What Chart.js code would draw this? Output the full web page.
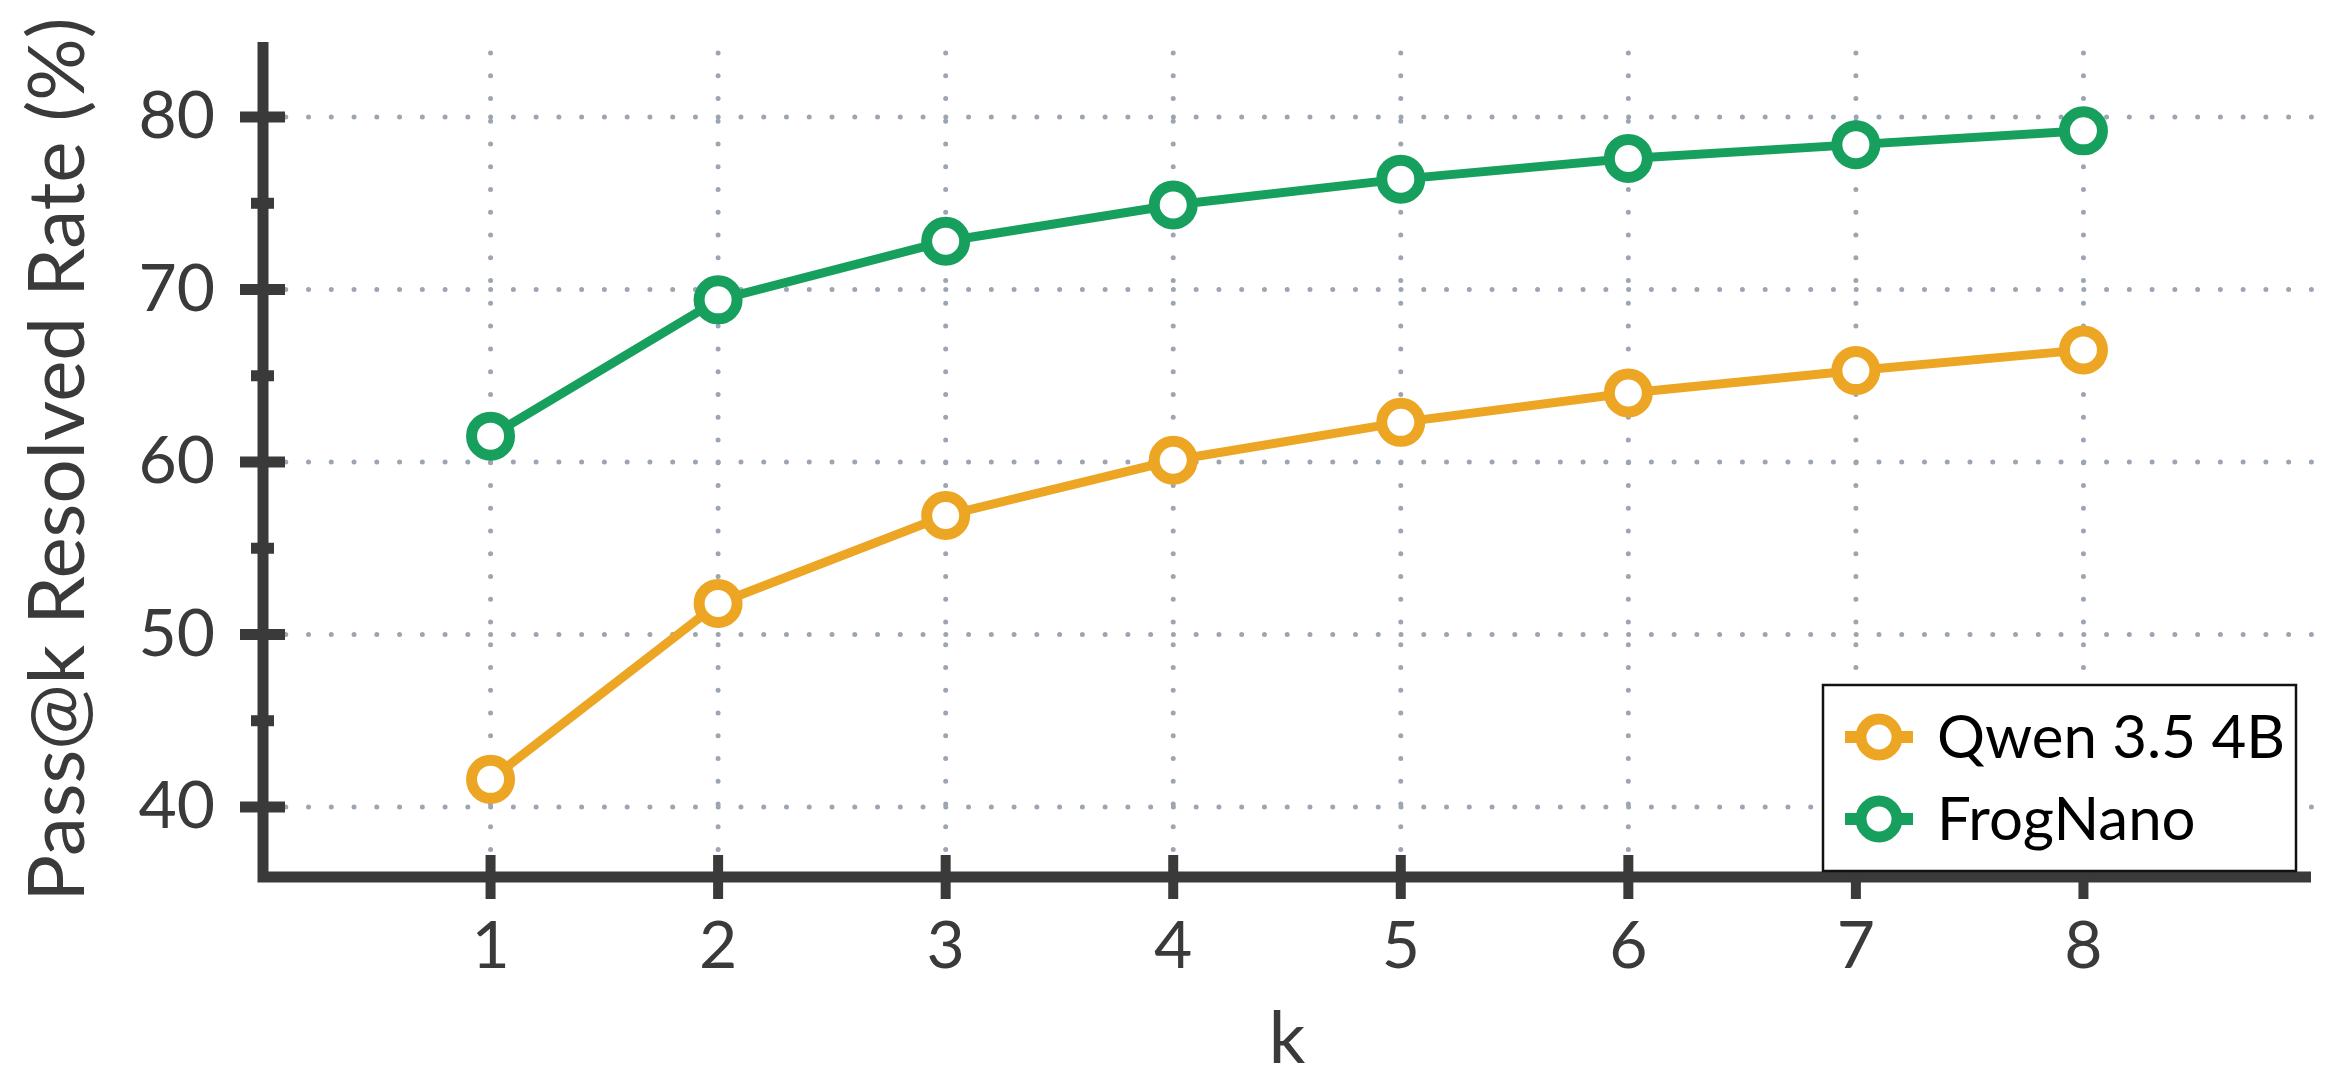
<!DOCTYPE html>
<html>
<head>
<meta charset="utf-8">
<script src="https://cdn.jsdelivr.net/npm/chart.js@4.4.1/dist/chart.umd.min.js"></script>
<style>
  html, body { margin: 0; padding: 0; background: #fff; }
  canvas { display: block; }
</style>
</head>
<body>
<canvas id="chart" width="2342" height="1091"></canvas>
<script>
// data
var kValues = [1, 2, 3, 4, 5, 6, 7, 8];
var qwenRates = [41.6, 51.8, 56.9, 60.1, 62.3, 64.0, 65.3, 66.5];
var frogRates = [61.5, 69.4, 72.8, 74.9, 76.4, 77.6, 78.4, 79.2];
var seriesNames = ['Qwen 3.5 4B', 'FrogNano'];
var yTickValues = [40, 50, 60, 70, 80];
var yMinorTicks = [45, 55, 65, 75];
var xTickValues = [1, 2, 3, 4, 5, 6, 7, 8];

var AXIS = '#3a3a3a';
var GRID = '#9ca6b2';
var ORANGE = '#eca623';
var GREEN = '#17a05d';
var FONT = 'Lato';

function toPoints(ys) {
    return kValues.map(function (k, i) { return { x: k, y: ys[i] }; });
}

function series(label, ys, color) {
    return {
        label: label,
        data: toPoints(ys),
        borderColor: color,
        backgroundColor: '#ffffff',
        borderWidth: 9,
        pointRadius: 19,
        pointBorderWidth: 11,
        pointBackgroundColor: '#ffffff',
        pointBorderColor: color,
        tension: 0
    };
}

// dotted grid, axis lines, tick marks (both sides of axis) and the boxed legend
var decor = {
    id: 'decor',
    beforeDatasetsDraw: function (chart) {
        var ctx = chart.ctx, a = chart.chartArea;
        var xs = chart.scales.x, ys = chart.scales.y;
        ctx.save();
        ctx.strokeStyle = GRID;
        ctx.lineWidth = 5;
        ctx.lineCap = 'round';
        ctx.setLineDash([0, 22.76]);
        yTickValues.forEach(function (v) {
            var y = ys.getPixelForValue(v);
            ctx.beginPath();
            ctx.moveTo(a.left + 22.76, y);
            ctx.lineTo(a.right + 2, y);
            ctx.stroke();
        });
        xTickValues.forEach(function (v) {
            var x = xs.getPixelForValue(v);
            ctx.beginPath();
            ctx.moveTo(x, a.top + 11);
            ctx.lineTo(x, a.bottom - 6);
            ctx.stroke();
        });
        ctx.restore();
    },
    afterDraw: function (chart) {
        var ctx = chart.ctx, a = chart.chartArea;
        var xs = chart.scales.x, ys = chart.scales.y;
        ctx.save();
        ctx.strokeStyle = AXIS;
        ctx.lineCap = 'butt';
        // axes
        ctx.lineWidth = 11;
        ctx.beginPath();
        ctx.moveTo(a.left, a.top);
        ctx.lineTo(a.left, a.bottom + 5.5);
        ctx.moveTo(a.left - 5.5, a.bottom);
        ctx.lineTo(a.right, a.bottom);
        ctx.stroke();
        // y major ticks
        yTickValues.forEach(function (v) {
            var y = ys.getPixelForValue(v);
            ctx.beginPath();
            ctx.moveTo(a.left - 23, y);
            ctx.lineTo(a.left + 22, y);
            ctx.stroke();
        });
        // y minor ticks
        yMinorTicks.forEach(function (v) {
            var y = ys.getPixelForValue(v);
            ctx.beginPath();
            ctx.moveTo(a.left - 12, y);
            ctx.lineTo(a.left + 11, y);
            ctx.stroke();
        });
        // x ticks
        ctx.lineWidth = 10;
        xTickValues.forEach(function (v) {
            var x = xs.getPixelForValue(v);
            ctx.beginPath();
            ctx.moveTo(x, a.bottom - 22);
            ctx.lineTo(x, a.bottom + 22);
            ctx.stroke();
        });

        // legend box
        var bx = 1823, by = 685, bw = 473, bh = 186;
        ctx.fillStyle = '#ffffff';
        ctx.fillRect(bx, by, bw, bh);
        ctx.lineWidth = 2.5;
        ctx.strokeStyle = '#111111';
        ctx.strokeRect(bx, by, bw, bh);
        chart.data.datasets.forEach(function (ds, i) {
            var cy = by + 52 + i * 82;
            var cx = bx + 56;
            ctx.strokeStyle = ds.borderColor;
            ctx.lineWidth = 12;
            ctx.beginPath();
            ctx.moveTo(cx - 34, cy);
            ctx.lineTo(cx + 34, cy);
            ctx.stroke();
            ctx.beginPath();
            ctx.arc(cx, cy, 18, 0, Math.PI * 2);
            ctx.fillStyle = '#ffffff';
            ctx.fill();
            ctx.lineWidth = 11;
            ctx.stroke();
            ctx.fillStyle = '#000000';
            ctx.font = '60px ' + FONT;
            ctx.textBaseline = 'middle';
            ctx.textAlign = 'left';
            ctx.fillText(ds.label, bx + 114, cy + 2);
        });
        ctx.restore();
    }
};

var ctx = document.getElementById('chart').getContext('2d');
var chart = new Chart(ctx, {
    type: 'line',
    data: {
        datasets: [
            series(seriesNames[0], qwenRates, ORANGE),
            series(seriesNames[1], frogRates, GREEN)
        ]
    },
    options: {
        responsive: false,
        animation: false,
        devicePixelRatio: 1,
        layout: { padding: { top: 42, right: 31, left: 0, bottom: 0 } },
        plugins: {
            legend: { display: false },
            tooltip: { enabled: false }
        },
        scales: {
            x: {
                type: 'linear',
                min: 0,
                max: 9,
                afterFit: function (s) {
                    s.height = 214;
                    s.paddingLeft = 0;
                    s.paddingRight = 0;
                },
                afterBuildTicks: function (s) {
                    s.ticks = xTickValues.map(function (v) { return { value: v }; });
                },
                grid: { display: false },
                border: { display: false },
                ticks: {
                    color: AXIS,
                    font: { family: FONT, size: 66 },
                    padding: 22,
                    maxRotation: 0,
                    autoSkip: false
                },
                title: {
                    display: true,
                    text: 'k',
                    color: AXIS,
                    font: { family: FONT, size: 72 },
                    padding: { top: 0, bottom: 8 }
                }
            },
            y: {
                min: 35.94,
                max: 84.35,
                afterFit: function (s) {
                    s.width = 263;
                    s.paddingTop = 0;
                    s.paddingBottom = 0;
                },
                afterBuildTicks: function (s) {
                    s.ticks = yTickValues.map(function (v) { return { value: v }; });
                },
                grid: { display: false },
                border: { display: false },
                ticks: {
                    color: AXIS,
                    font: { family: FONT, size: 66 },
                    padding: 40
                },
                title: {
                    display: true,
                    text: 'Pass@k Resolved Rate (%)',
                    color: AXIS,
                    font: { family: FONT, size: 78 },
                    padding: { top: 12, bottom: 0 }
                }
            }
        }
    },
    plugins: [decor]
});
</script>
</body>
</html>
